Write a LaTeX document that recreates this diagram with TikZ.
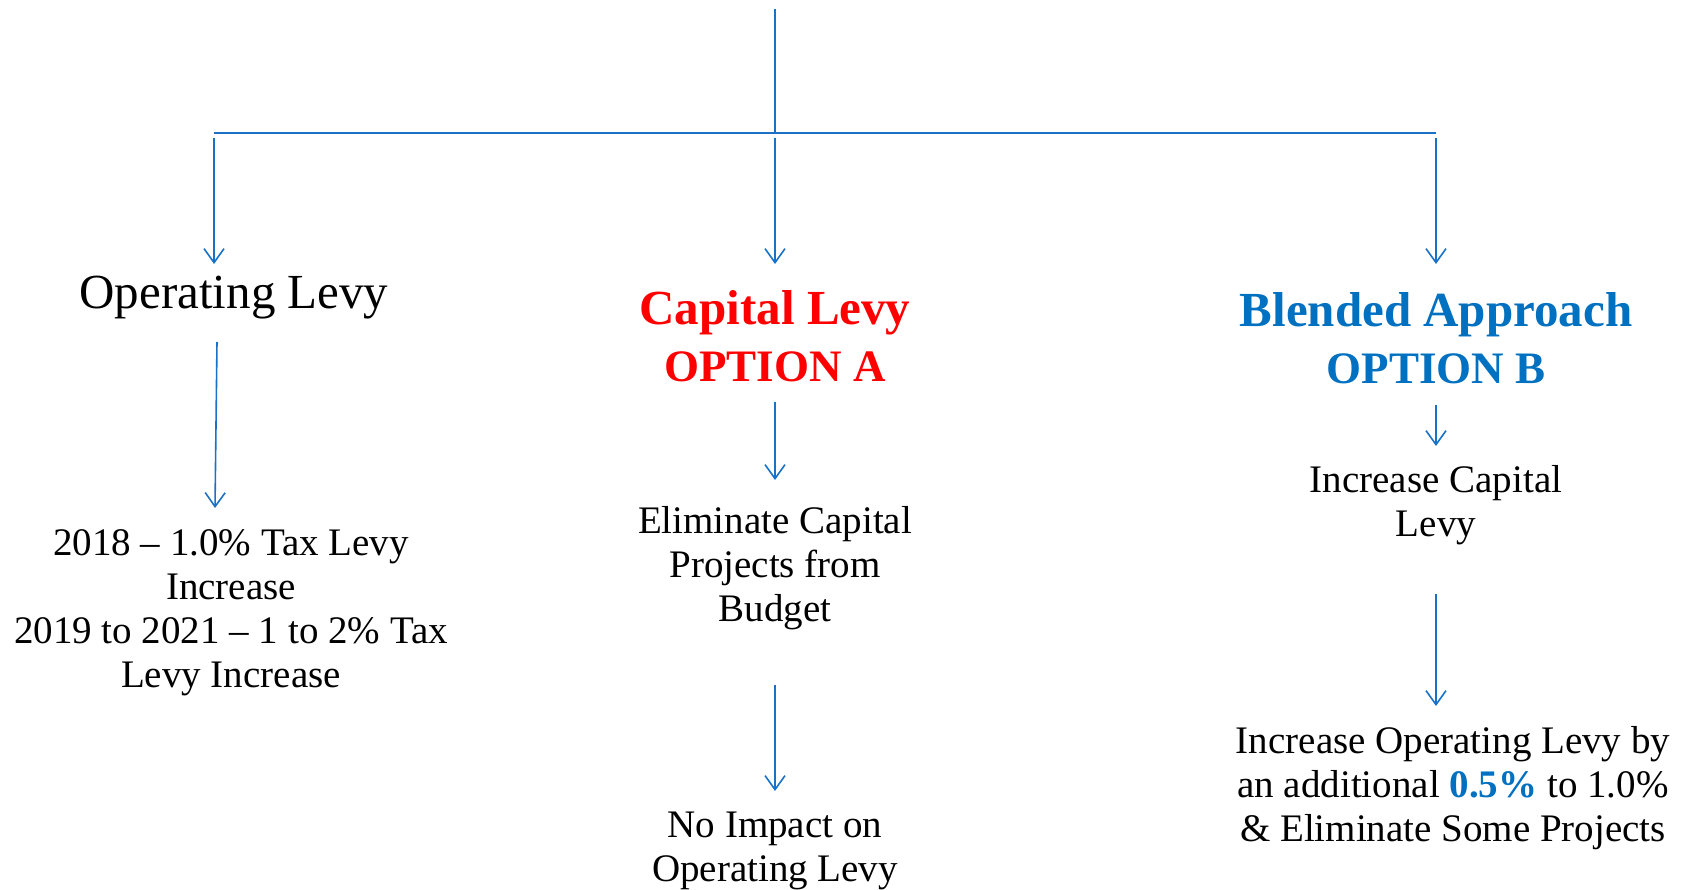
\documentclass[tikz,border=0pt]{standalone}
\usepackage{fontspec}
\setmainfont{Liberation Serif}
\usetikzlibrary{arrows.meta}
\definecolor{linkblue}{RGB}{25,114,200}
\definecolor{optblue}{RGB}{0,112,192}
\definecolor{optred}{RGB}{255,0,0}

\tikzset{
  link/.style={draw=linkblue, line width=1.6pt},
  arr/.style={link, -{Straight Barb[length=14pt,width=20pt,line width=1.6pt]}},
  body/.style={align=center, inner sep=0pt, font=\fontsize{39}{44}\selectfont},
  head/.style={align=center, inner sep=0pt, font=\bfseries\fontsize{49}{57}\selectfont}
}
\newcommand{\optline}[1]{{\fontsize{45}{57}\selectfont #1}}

\begin{document}
\begin{tikzpicture}[x=1pt,y=-1pt]
    \useasboundingbox (0,0) rectangle (1688,890);
    % tree bar
    \coordinate (top) at (775,9);
    \coordinate (mid) at (775,133);
    \coordinate (barl) at (214,133);
    \coordinate (barr) at (1436,133);
    \draw[link] (top) -- (mid);
    \draw[link] (barl) -- (barr);
    % headings
    \node[body, font=\fontsize{49}{56}\selectfont] (oplevy) at (234,298) {Operating Levy};
    \node[head, text=optred] (optA) at (775,336) {Capital Levy\\\optline{OPTION A}};
    \node[head, text=optblue] (optB) at (1436,338) {Blended Approach\\\optline{OPTION B}};
    % texts
    \node[body] (optax) at (231,613) {2018 -- 1.0\% Tax Levy\\Increase\\2019 to 2021 -- 1 to 2\% Tax\\Levy Increase};
    \node[body] (elim) at (775,568) {Eliminate Capital\\Projects from\\Budget};
    \node[body] (noimp) at (775,851) {No Impact on\\Operating Levy};
    \node[body] (inccap) at (1436,505) {Increase Capital\\Levy};
    \node[body] (incop) at (1453,788) {Increase Operating Levy by\\an additional \textcolor{optblue}{\textbf{0.5\%}} to 1.0\%\\\& Eliminate Some Projects};
    % arrow ends
    \coordinate (a1) at (214,138);  \coordinate (a1e) at (214,264);
    \coordinate (a2) at (775,138);  \coordinate (a2e) at (775,264);
    \coordinate (a3) at (1436,138); \coordinate (a3e) at (1436,264);
    \coordinate (b1) at (217,342);  \coordinate (b1e) at (215,508);
    \coordinate (b2) at (775,402);  \coordinate (b2e) at (775,480);
    \coordinate (b3) at (775,685);  \coordinate (b3e) at (775,791);
    \coordinate (c1) at (1436,405); \coordinate (c1e) at (1436,446);
    \coordinate (c2) at (1436,594); \coordinate (c2e) at (1436,706);
    \foreach \s/\e in {a1/a1e,a2/a2e,a3/a3e,b1/b1e,b2/b2e,b3/b3e,c1/c1e,c2/c2e}{
        \draw[arr] (\s) -- (\e);
    }
\end{tikzpicture}
\end{document}
